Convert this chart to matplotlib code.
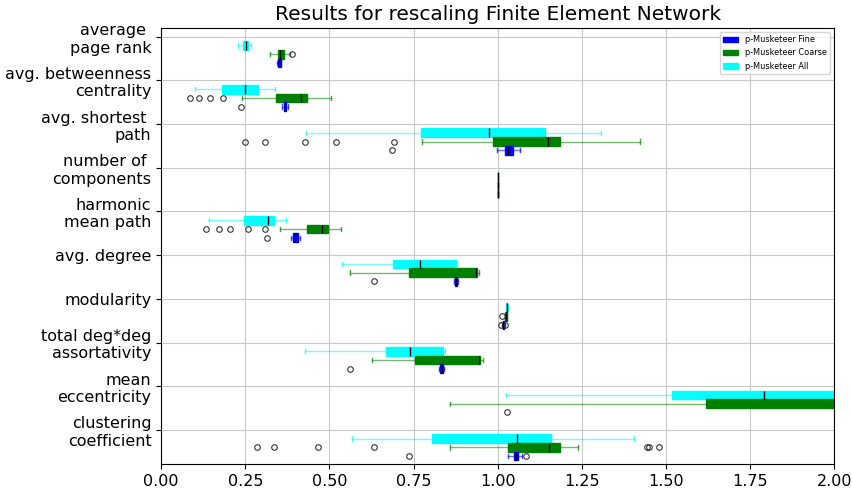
import matplotlib
matplotlib.use("Agg")
import matplotlib.pyplot as plt
from matplotlib.patches import Patch

categories = ["average \npage rank", "avg. betweenness\ncentrality", "avg. shortest \npath",
              "number of \ncomponents", "harmonic\nmean path", "avg. degree", "modularity",
              "total deg*deg\nassortativity", "mean\neccentricity", "clustering\ncoefficient"]

# p-Musketeer All (cyan)
all_lo = [0.227, 0.100, 0.431, 1.0, 0.142, 0.538, 1.024, 0.427, 1.025, 0.566]
all_q1 = [0.242, 0.181, 0.771, 1.0, 0.245, 0.688, 1.025, 0.668, 1.518, 0.805]
all_med = [0.251, 0.249, 0.974, 1.0, 0.318, 0.769, 1.027, 0.740, 1.792, 1.057]
all_q3 = [0.258, 0.289, 1.139, 1.0, 0.336, 0.876, 1.029, 0.837, 2.150, 1.159]
all_hi = [0.268, 0.337, 1.307, 1.0, 0.371, 0.876, 1.030, 0.844, 2.600, 1.406]
all_fliers = [[], [], [], [], [], [], [], [], [], []]

# p-Musketeer Coarse (green)
coarse_lo = [0.324, 0.240, 0.776, 1.0, 0.354, 0.560, 1.021, 0.626, 0.857, 0.857]
coarse_q1 = [0.347, 0.340, 0.986, 1.0, 0.432, 0.737, 1.023, 0.753, 1.618, 1.032]
coarse_med = [0.354, 0.416, 1.150, 1.0, 0.478, 0.935, 1.025, 0.944, 2.100, 1.153]
coarse_q3 = [0.365, 0.432, 1.185, 1.0, 0.496, 0.937, 1.027, 0.947, 2.300, 1.184]
coarse_hi = [0.382, 0.504, 1.424, 1.0, 0.533, 0.943, 1.028, 0.957, 2.700, 1.238]
coarse_fliers = [[0.390], [0.086, 0.113, 0.144, 0.184], [0.248, 0.309, 0.426, 0.518, 0.691], [],
                 [0.134, 0.171, 0.203, 0.258, 0.307], [], [1.014], [], [],
                 [0.285, 0.334, 0.465, 0.632, 1.443, 1.449, 1.480]]

# p-Musketeer Fine (blue)
fine_lo = [0.343, 0.360, 0.998, 1.0, 0.385, 0.869, 1.013, 0.826, 2.200, 1.032]
fine_q1 = [0.347, 0.364, 1.022, 1.0, 0.393, 0.872, 1.015, 0.829, 2.250, 1.047]
fine_med = [0.350, 0.368, 1.030, 1.0, 0.399, 0.875, 1.017, 0.833, 2.300, 1.054]
fine_q3 = [0.355, 0.372, 1.044, 1.0, 0.405, 0.878, 1.020, 0.838, 2.350, 1.061]
fine_hi = [0.357, 0.376, 1.066, 1.0, 0.411, 0.881, 1.022, 0.841, 2.400, 1.073]
fine_fliers = [[], [0.236], [0.685], [], [0.315], [0.633], [1.011, 1.023], [0.561], [1.029], [0.735, 1.085]]


def make_stats(lo, q1, med, q3, hi, fliers):
    return [{"whislo": lo[i], "q1": q1[i], "med": med[i], "q3": q3[i], "whishi": hi[i],
             "fliers": fliers[i]} for i in range(len(lo))]


series = [
    ("p-Musketeer All", "cyan", 0.2, make_stats(all_lo, all_q1, all_med, all_q3, all_hi, all_fliers)),
    ("p-Musketeer Coarse", "green", 0.4, make_stats(coarse_lo, coarse_q1, coarse_med, coarse_q3, coarse_hi, coarse_fliers)),
    ("p-Musketeer Fine", "blue", 0.6, make_stats(fine_lo, fine_q1, fine_med, fine_q3, fine_hi, fine_fliers)),
]

fig = plt.figure(figsize=(8.53, 4.91), dpi=100)
ax = fig.add_axes([0.189, 0.055, 0.789, 0.888])

for name, color, offset, stats in series:
    positions = [i + offset for i in range(len(categories))]
    ax.bxp(stats, positions=positions, orientation="horizontal", widths=0.2,
           patch_artist=True, manage_ticks=False, capwidths=0.1,
           boxprops=dict(facecolor=color, edgecolor=color, linewidth=1),
           whiskerprops=dict(color=color, alpha=0.55, linewidth=1),
           capprops=dict(color=color, alpha=0.7, linewidth=1),
           medianprops=dict(color="black", linewidth=1),
           flierprops=dict(marker="o", markerfacecolor="none", markeredgecolor="#333333",
                           markersize=4, markeredgewidth=0.8))

ax.set_yticks(range(len(categories)))
ax.set_yticklabels(categories, fontsize=11.5)
ax.set_ylim(9.78, -0.2)
ax.set_xlim(0, 2)
ax.set_xticks([0, 0.25, 0.5, 0.75, 1.0, 1.25, 1.5, 1.75, 2.0])
ax.set_xticklabels(["0.00", "0.25", "0.50", "0.75", "1.00", "1.25", "1.50", "1.75", "2.00"], fontsize=11.5)
ax.grid(True, color="#c8c8c8", linewidth=0.8)
ax.set_axisbelow(True)
ax.set_title("Results for rescaling Finite Element Network", fontsize=14.5)

handles = [Patch(color="blue", label="p-Musketeer Fine"),
           Patch(color="green", label="p-Musketeer Coarse"),
           Patch(color="cyan", label="p-Musketeer All")]
ax.legend(handles=handles, loc="upper right", fontsize=5.9, handlelength=1.9)

fig.savefig("out.png", dpi=100)
